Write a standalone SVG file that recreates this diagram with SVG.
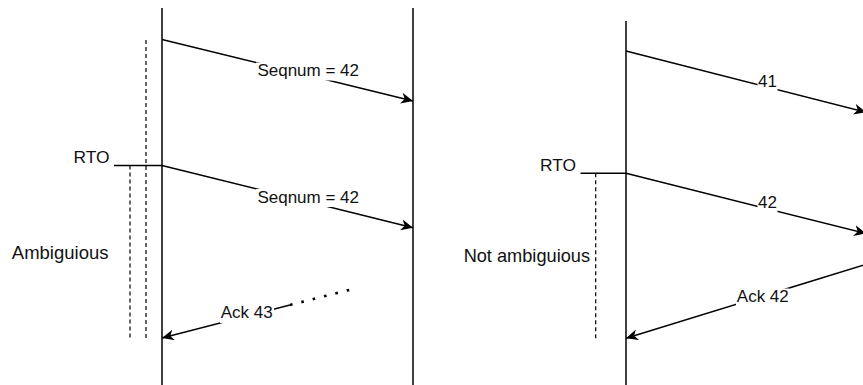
<svg xmlns="http://www.w3.org/2000/svg" width="863" height="385" viewBox="0 0 863 385">
  <style>
    .life { stroke: #000; stroke-width: 1.5; fill: none; }
    .msg { stroke: #000; stroke-width: 1.5; fill: none; marker-end: url(#arrow); }
    .tick { stroke: #000; stroke-width: 1.5; fill: none; }
    .dash { stroke: #000; stroke-width: 1.2; stroke-dasharray: 4 3; fill: none; }
    .dots { stroke: #000; stroke-width: 2.6; stroke-dasharray: 2.6 9.1; fill: none; }
    .lbl { font-family: "Liberation Sans", Arial, sans-serif; font-size: 17px; fill: #111; }
    .side { font-size: 18.5px; }
    .bg { fill: #fff; }
  </style>
  <defs>
    <marker id="arrow" markerUnits="userSpaceOnUse" markerWidth="14" markerHeight="12" refX="12" refY="5.5" orient="auto">
      <path d="M0,0 L12,5.5 L0,11 L3.5,5.5 Z" fill="#000"/>
    </marker>
  </defs>

  <rect width="863" height="385" fill="#fff"/>

  <!-- left scenario: sender / receiver lifelines -->
  <g id="left-sender"><line class="life" x1="162" y1="8" x2="162" y2="385"/></g>
  <g id="left-receiver"><line class="life" x1="413" y1="8" x2="413" y2="385"/></g>

  <!-- left timers -->
  <g id="left-rto">
    <line class="tick" x1="114" y1="165.5" x2="162" y2="165.5"/>
    <text class="lbl" x="109.5" y="162.5" text-anchor="end" style="font-size:17.4px">RTO</text>
  </g>
  <g id="left-timer-lines">
    <line class="dash" x1="146" y1="40" x2="146" y2="338"/>
    <line class="dash" x1="130" y1="165.5" x2="130" y2="338"/>
  </g>
  <g id="left-ambiguous">
    <text class="lbl side" x="108.5" y="258.5" text-anchor="end">Ambiguious</text>
  </g>

  <!-- right scenario: sender lifeline -->
  <g id="right-sender"><line class="life" x1="626" y1="21" x2="626" y2="385"/></g>
  <g id="right-rto">
    <line class="tick" x1="580.5" y1="173.3" x2="626" y2="173.3"/>
    <text class="lbl" x="576" y="171" text-anchor="end" style="font-size:17.4px">RTO</text>
  </g>
  <g id="right-timer-line">
    <line class="dash" x1="595.7" y1="173.3" x2="595.7" y2="340"/>
  </g>
  <g id="right-not-ambiguous">
    <text class="lbl" x="590" y="262" text-anchor="end" style="font-size:18.2px">Not ambiguious</text>
  </g>

  <!-- messages -->
  <g id="connectors">
    <line class="msg" x1="162" y1="39.5" x2="413" y2="101"/>
    <line class="msg" x1="162" y1="165.5" x2="413" y2="227.7"/>
    <line class="dots" x1="290" y1="305" x2="351" y2="289.5"/>
    <line class="msg" x1="290" y1="305" x2="162" y2="338"/>

    <line class="msg" x1="626" y1="51" x2="866" y2="112.2"/>
    <line class="msg" x1="626" y1="173.3" x2="866" y2="233.5"/>
    <line class="msg" x1="872" y1="262.5" x2="626" y2="338.3"/>
  </g>

  <!-- message labels -->
  <g id="labels">
    <rect class="bg" x="256" y="62.5" width="104" height="18"/>
    <text class="lbl" x="308.2" y="75.7" text-anchor="middle">Seqnum = 42</text>
    <rect class="bg" x="256" y="189" width="104" height="18"/>
    <text class="lbl" x="308.2" y="202.7" text-anchor="middle">Seqnum = 42</text>
    <rect class="bg" x="220" y="305" width="54" height="18"/>
    <text class="lbl" x="246.7" y="318.3" text-anchor="middle">Ack 43</text>

    <rect class="bg" x="757.5" y="74" width="20" height="17"/>
    <text class="lbl" x="767.4" y="87" text-anchor="middle">41</text>
    <rect class="bg" x="757.5" y="195" width="20" height="17"/>
    <text class="lbl" x="767.4" y="208.3" text-anchor="middle">42</text>
    <rect class="bg" x="736" y="288.5" width="53.5" height="18"/>
    <text class="lbl" x="762.8" y="301.7" text-anchor="middle">Ack 42</text>
  </g>
</svg>
